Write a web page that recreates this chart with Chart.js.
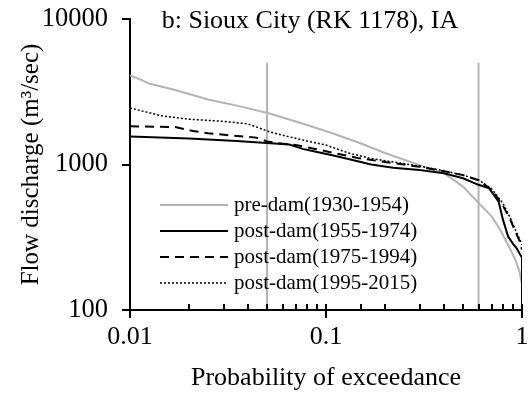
<!DOCTYPE html>
<html>
<head>
<meta charset="utf-8">
<script src="https://cdn.jsdelivr.net/npm/chart.js@4/dist/chart.umd.min.js"></script>
<style>
  html, body { margin: 0; padding: 0; background: #fff; }
  #wrap { width: 531px; height: 398px; position: relative; }
</style>
</head>
<body>
<div id="wrap"><canvas id="fdc"></canvas></div>
<script>
/* Flow duration curves, Sioux City */
var TITLE = 'b: Sioux City (RK 1178), IA';
var SERIES_NAMES = ['pre-dam(1930-1954)', 'post-dam(1955-1974)', 'post-dam(1975-1994)', 'post-dam(1995-2015)'];

var preP = [0.01, 0.0115, 0.0125, 0.017, 0.025, 0.037, 0.052, 0.075, 0.105, 0.15, 0.2, 0.3, 0.4, 0.5, 0.6, 0.7, 0.77, 0.85, 0.92, 0.97, 1.0];
var preQ = [4100, 3800, 3600, 3250, 2800, 2500, 2230, 1920, 1660, 1400, 1200, 990, 870, 705, 545, 440, 360, 280, 225, 185, 150];

var post1P = [0.01, 0.02, 0.035, 0.052, 0.06, 0.065, 0.076, 0.09, 0.105, 0.13, 0.17, 0.22, 0.3, 0.4, 0.5, 0.6, 0.68, 0.76, 0.8, 0.85, 0.9, 0.94, 0.98, 1.0, 1.0];
var post1Q = [1560, 1510, 1450, 1400, 1385, 1370, 1280, 1220, 1165, 1090, 1000, 950, 915, 870, 805, 725, 686, 555, 416, 320, 285, 265, 240, 230, 100];

var post2P = [0.01, 0.017, 0.021, 0.025, 0.032, 0.044, 0.05, 0.055, 0.07, 0.088, 0.11, 0.145, 0.2, 0.3, 0.4, 0.5, 0.6, 0.7, 0.8, 0.87, 0.93, 0.97, 1.0];
var post2Q = [1830, 1810, 1700, 1640, 1590, 1530, 1440, 1410, 1360, 1280, 1200, 1110, 1040, 965, 900, 845, 780, 670, 520, 420, 340, 300, 260];

var post3P = [0.01, 0.012, 0.0145, 0.02, 0.03, 0.04, 0.052, 0.06, 0.08, 0.1, 0.13, 0.17, 0.22, 0.3, 0.4, 0.5, 0.6, 0.7, 0.8, 0.87, 0.93, 0.97, 1.0];
var post3Q = [2450, 2300, 2160, 2050, 1980, 1900, 1670, 1590, 1450, 1360, 1200, 1100, 1040, 975, 905, 845, 785, 680, 540, 430, 350, 310, 280];

/* grey reference lines at 5% and 60% exceedance */
var VLINE_P = [0.05, 0.6];
var VLINE_Q = [100, 5000];

var X_TICKS = [0.01, 0.1, 1];
var Y_TICKS = [100, 1000, 10000];

var GREY = '#b4b4b4';
var SERIF = '"Liberation Serif", "Times New Roman", serif';

function pts(ps, qs) {
  return ps.map(function (p, i) { return { x: p, y: qs[i] }; });
}

function isListed(v, list) {
  return list.some(function (t) { return Math.abs(Math.log10(v) - Math.log10(t)) < 1e-6; });
}

/* drop the label overhang padding so the plot box sits where it should */
function noPad(s) {
  s.paddingTop = 0;
  s.paddingBottom = 0;
  s.paddingLeft = 0;
  s.paddingRight = 0;
}

/* line styles, shared by the plot and the hand-drawn legend */
var STYLES = [
  { color: GREY, width: 2, dash: [] },
  { color: '#000', width: 2, dash: [] },
  { color: '#000', width: 2, dash: [9, 6] },
  { color: '#000', width: 1.5, dash: [2, 2] }
];

/* Ticks, in-plot title and legend */
var overlay = {
  id: 'overlay',
  afterDraw: function (chart) {
    var ctx = chart.ctx;
    var xs = chart.scales.x, ys = chart.scales.y;
    var a = chart.chartArea;
    ctx.save();
    ctx.strokeStyle = '#000';
    ctx.lineWidth = 2;
    ctx.setLineDash([]);

    /* x ticks: minor ones point inward, decades cross the axis */
    xs.ticks.forEach(function (t) {
      var px = Math.round(xs.getPixelForValue(t.value));
      var major = isListed(t.value, X_TICKS);
      ctx.beginPath();
      ctx.moveTo(px, a.bottom + (major ? 8 : 0));
      ctx.lineTo(px, a.bottom - 6);
      ctx.stroke();
    });

    /* y ticks at the decades, outward */
    Y_TICKS.forEach(function (v) {
      var py = Math.round(ys.getPixelForValue(v));
      ctx.beginPath();
      ctx.moveTo(a.left - 8, py);
      ctx.lineTo(a.left, py);
      ctx.stroke();
    });

    /* title inside the plot */
    ctx.fillStyle = '#000';
    ctx.font = '26px ' + SERIF;
    ctx.textAlign = 'center';
    ctx.textBaseline = 'middle';
    ctx.fillText(TITLE, 310, 21);

    /* legend */
    ctx.font = '21px ' + SERIF;
    ctx.textAlign = 'left';
    SERIES_NAMES.forEach(function (name, i) {
      var y = 205 + i * 26;
      var s = STYLES[i];
      ctx.strokeStyle = s.color;
      ctx.lineWidth = s.width;
      ctx.setLineDash(s.dash);
      ctx.beginPath();
      ctx.moveTo(160, y);
      ctx.lineTo(228, y);
      ctx.stroke();
      ctx.fillText(name, 234, y);
    });
    ctx.restore();
  }
};

var seriesP = [preP, post1P, post2P, post3P];
var seriesQ = [preQ, post1Q, post2Q, post3Q];

/* black series first so they sit on top of the grey ones */
var datasets = [3, 2, 1, 0].map(function (i) {
  return {
    label: SERIES_NAMES[i],
    data: pts(seriesP[i], seriesQ[i]),
    borderColor: STYLES[i].color,
    borderWidth: STYLES[i].width,
    borderDash: STYLES[i].dash,
    showLine: true,
    pointRadius: 0,
    tension: 0,
    fill: false
  };
});

VLINE_P.forEach(function (p) {
  datasets.push({
    label: 'ref ' + p,
    data: pts([p, p], VLINE_Q),
    borderColor: GREY,
    borderWidth: 2,
    showLine: true,
    pointRadius: 0,
    fill: false
  });
});

new Chart(document.getElementById('fdc'), {
  type: 'scatter',
  data: { datasets: datasets },
  options: {
    responsive: true,
    maintainAspectRatio: false,
    animation: false,
    layout: { autoPadding: false, padding: { top: 19, right: 9, left: 0, bottom: 0 } },
    plugins: {
      legend: { display: false },
      tooltip: { enabled: false }
    },
    scales: {
      x: {
        type: 'logarithmic',
        min: 0.01,
        max: 1,
        afterFit: function (s) { s.height = 88; noPad(s); },
        grid: { display: false, drawTicks: false },
        border: { display: true, color: '#000', width: 2 },
        ticks: {
          autoSkip: false,
          maxRotation: 0,
          padding: 12,
          color: '#000',
          font: { family: SERIF, size: 26 },
          callback: function (v) { return isListed(v, X_TICKS) ? String(+v.toPrecision(3)) : ''; }
        },
        title: {
          display: true,
          text: 'Probability of exceedance',
          color: '#000',
          font: { family: SERIF, size: 26 },
          padding: { top: 0, bottom: 4 }
        }
      },
      y: {
        type: 'logarithmic',
        min: 100,
        max: 10000,
        afterFit: function (s) { s.width = 130; noPad(s); },
        grid: { display: false, drawTicks: false },
        border: { display: true, color: '#000', width: 2 },
        ticks: {
          autoSkip: false,
          padding: 22,
          color: '#000',
          font: { family: SERIF, size: 26.5 },
          callback: function (v) { return isListed(v, Y_TICKS) ? String(Math.round(v)) : ''; }
        },
        title: {
          display: true,
          text: 'Flow discharge (m³/sec)',
          color: '#000',
          font: { family: SERIF, size: 25 },
          padding: { top: 16, bottom: 0 }
        }
      }
    }
  },
  plugins: [overlay]
});
</script>
</body>
</html>
